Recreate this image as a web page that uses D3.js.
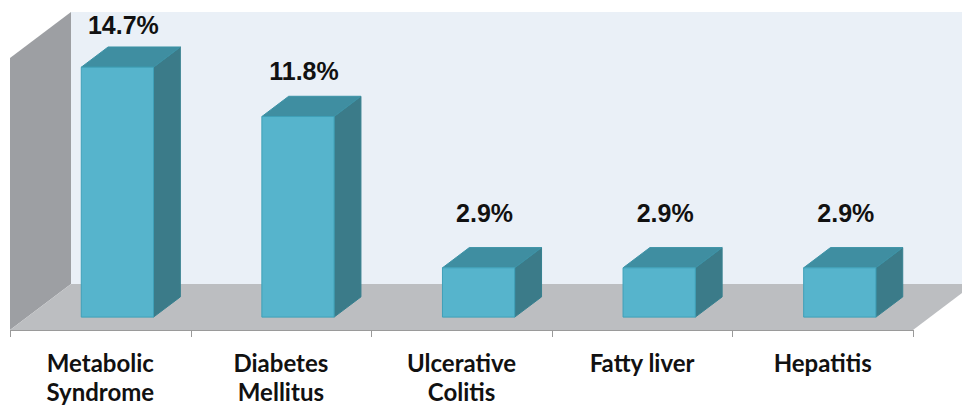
<!DOCTYPE html>
<html><head><meta charset="utf-8">
<script src="https://cdn.jsdelivr.net/npm/d3@7"></script>
<style>html,body{margin:0;padding:0;background:#fff;}svg{display:block;}</style>
</head><body>
<svg id="chart" width="962" height="406"></svg>
<script>
const categories = [["Metabolic","Syndrome"],["Diabetes","Mellitus"],["Ulcerative","Colitis"],["Fatty liver"],["Hepatitis"]];
const values = [14.7, 11.8, 2.9, 2.9, 2.9];
const valueLabels = ["14.7%", "11.8%", "2.9%", "2.9%", "2.9%"];
const yMax = 16;

const svg = d3.select("#chart");
const floorY = 330, depthX = 61, depthY = 46;
const x = d3.scaleBand().domain(d3.range(categories.length)).range([10, 913]).paddingInner(0.6).paddingOuter(0.3);
const h = d3.scaleLinear().domain([0, yMax]).range([0, 272]);
const labelY = d3.scaleLinear().domain([0, yMax]).range([268.7, 13.5]);
const P = (px, hh, t) => [px + depthX * t, floorY - depthY * t - hh];
const poly = pts => "M" + pts.map(p => p.join(",")).join("L") + "Z";
const x0 = x.range()[0], x1 = x.range()[1];
const H = h(yMax);

// back wall
svg.append("path").attr("d", poly([P(x0,0,1), P(x0,H,1), P(x1+60,H,1), P(x1+60,0,1)])).attr("fill", "#eaf0f7");
// left wall
svg.append("path").attr("d", poly([P(x0,0,0), P(x0,H,0), P(x0,H,1), P(x0,0,1)])).attr("fill", "#9d9fa3");
// floor
svg.append("path").attr("d", poly([P(x0,0,0), P(x1,0,0), P(x1,0,1), P(x0,0,1)])).attr("fill", "#bcbec1");
// axis line and ticks
svg.append("line").attr("x1", x0).attr("x2", x1).attr("y1", floorY+0.5).attr("y2", floorY+0.5).attr("stroke", "#9a9a9a").attr("stroke-width", 1);
const ticks = d3.range(categories.length + 1).map(i => x0 + x.step() * i);
svg.selectAll(".tick").data(ticks).enter().append("line")
  .attr("x1", d => Math.round(d)+0.5).attr("x2", d => Math.round(d)+0.5)
  .attr("y1", floorY).attr("y2", floorY + 7).attr("stroke", "#9a9a9a");

const tF = 0.28, tB = 0.72;
const g = svg.append("g");
values.forEach((v, i) => {
  const l = x(i), r = x(i) + x.bandwidth(), hv = h(v);
  g.append("path").attr("d", poly([P(r,0,tF), P(r,hv,tF), P(r,hv,tB), P(r,0,tB)]))
    .attr("fill", "#3b7b89").attr("stroke", "#37808f").attr("stroke-width", 1);
  g.append("path").attr("d", poly([P(l,hv,tF), P(r,hv,tF), P(r,hv,tB), P(l,hv,tB)]))
    .attr("fill", "#3f8ea1").attr("stroke", "#3d93a7").attr("stroke-width", 1);
  g.append("path").attr("d", poly([P(l,0,tF), P(l,hv,tF), P(r,hv,tF), P(r,0,tF)]))
    .attr("fill", "#56b4cc").attr("stroke", "#3fa0b8").attr("stroke-width", 1);
});

svg.selectAll(".vl").data(values).enter().append("text")
  .attr("x", (d, i) => x(i) + x.bandwidth()/2 + depthX*tF + 6)
  .attr("y", d => labelY(d))
  .attr("text-anchor", "middle")
  .attr("font-family", "Liberation Sans, Arial, sans-serif")
  .attr("font-weight", "bold").attr("font-size", 25).attr("fill", "#111")
  .text((d, i) => valueLabels[i]);

const cl = svg.selectAll(".cl").data(categories).enter().append("text")
  .attr("text-anchor", "middle")
  .attr("font-family", "Lato, sans-serif")
  .attr("font-weight", "bold").attr("font-size", 24).attr("fill", "#111");
cl.each(function(lines, i) {
  const t = d3.select(this);
  lines.forEach((s, k) => {
    t.append("tspan").attr("x", x(i) + x.bandwidth()/2).attr("y", 372 + k*29).text(s);
  });
});
</script>
</body></html>
